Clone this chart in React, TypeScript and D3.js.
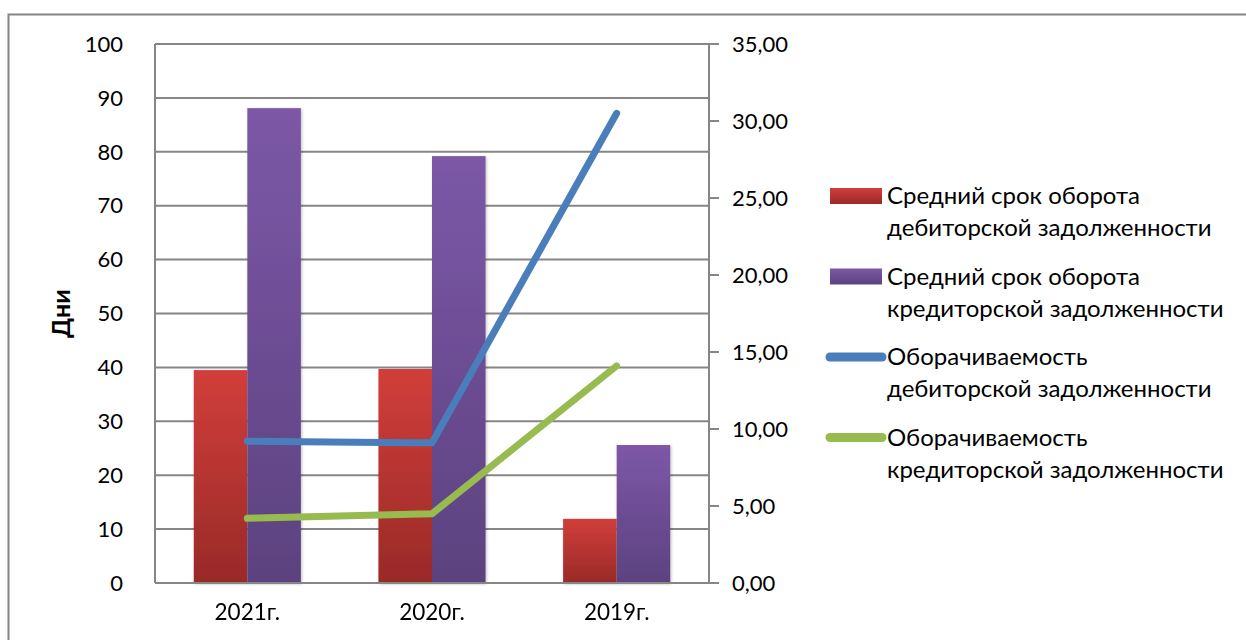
import * as d3 from "d3";
import React from "react";

const categories = ["2021г.", "2020г.", "2019г."];
const receivableDays = [39.5, 39.7, 11.9];
const payableDays = [88.1, 79.2, 25.6];
const receivableTurnover = [9.2, 9.1, 30.5];
const payableTurnover = [4.2, 4.5, 14.1];
const leftTicks = [0, 10, 20, 30, 40, 50, 60, 70, 80, 90, 100];
const rightTicks = [0, 5, 10, 15, 20, 25, 30, 35];

const legendItems = [
  { kind: "bar", fill: "url(#gRed)", lines: ["Средний срок оборота", "дебиторской задолженности"] },
  { kind: "bar", fill: "url(#gPurple)", lines: ["Средний срок оборота", "кредиторской задолженности"] },
  { kind: "line", fill: "#4a7ebb", lines: ["Оборачиваемость", "дебиторской задолженности"] },
  { kind: "line", fill: "#98bb50", lines: ["Оборачиваемость", "кредиторской задолженности"] },
];

export default function App() {
  const width = 1246;
  const height = 640;
  const left = 155;
  const right = 709;
  const top = 44;
  const bottom = 583;
  const font = "Lato, 'Open Sans', sans-serif";

  const x = d3.scaleBand().domain(categories).range([left, right]).paddingInner(0.42).paddingOuter(0.21);
  const xSub = d3.scaleBand().domain(["r", "p"]).range([0, x.bandwidth()]);
  const y = d3.scaleLinear().domain([0, 100]).range([bottom, top]);
  const y2 = d3.scaleLinear().domain([0, 35]).range([bottom, top]);

  const line = d3
    .line<number>()
    .x((_, i) => (x(categories[i]) || 0) + x.bandwidth() / 2)
    .y((d) => y2(d));

  const fmt = (v: number) => v.toFixed(2).replace(".", ",");

  return (
    <svg width={width} height={height} style={{ position: "absolute", left: 0, top: 0, background: "#fff" }}>
      <defs>
        <linearGradient id="gRed" x1="0" x2="0" y1="0" y2="1">
          <stop offset="0%" stopColor="#d13e3a" />
          <stop offset="100%" stopColor="#992a28" />
        </linearGradient>
        <linearGradient id="gPurple" x1="0" x2="0" y1="0" y2="1">
          <stop offset="0%" stopColor="#7c58a7" />
          <stop offset="100%" stopColor="#5c427f" />
        </linearGradient>
        <filter id="shadow" x="-20%" y="-5%" width="140%" height="110%">
          <feDropShadow dx="1" dy="1" stdDeviation="1.5" floodColor="#000" floodOpacity="0.25" />
        </filter>
      </defs>
      <rect x={8.5} y={14.5} width={1260} height={660} fill="none" stroke="#868686" strokeWidth={2} />

      {leftTicks.map((t) => (
        <g key={t}>
          <line x1={left} x2={right} y1={y(t)} y2={y(t)} stroke="#868686" strokeWidth={2} />
          <text x={123} y={y(t)} dy="0.35em" textAnchor="end" fontFamily={font} fontSize={22}>
            {t}
          </text>
        </g>
      ))}
      <line x1={left} x2={left} y1={top} y2={bottom} stroke="#868686" strokeWidth={2} />
      <line x1={right} x2={right} y1={top} y2={bottom} stroke="#868686" strokeWidth={2} />
      {rightTicks.map((t) => (
        <g key={t}>
          <line x1={right} x2={right + 10} y1={y2(t)} y2={y2(t)} stroke="#868686" strokeWidth={2} />
          <text x={732} y={y2(t)} dy="0.35em" fontFamily={font} fontSize={22}>
            {fmt(t)}
          </text>
        </g>
      ))}

      <g filter="url(#shadow)">
        {categories.map((c, i) => (
          <g key={c} transform={`translate(${x(c)},0)`}>
            <rect x={xSub("r")} width={xSub.bandwidth()} y={y(receivableDays[i])} height={bottom - y(receivableDays[i])} fill="url(#gRed)" />
            <rect x={xSub("p")} width={xSub.bandwidth()} y={y(payableDays[i])} height={bottom - y(payableDays[i])} fill="url(#gPurple)" />
          </g>
        ))}
      </g>

      <line x1={left} x2={right} y1={bottom} y2={bottom} stroke="#868686" strokeWidth={2} />

      {categories.map((c) => (
        <text key={c} x={(x(c) || 0) + x.bandwidth() / 2} y={612} dy="0.35em" textAnchor="middle" fontFamily={font} fontSize={22.5}>
          {c}
        </text>
      ))}

      <path d={line(receivableTurnover) || ""} fill="none" stroke="#4a7ebb" strokeWidth={7} strokeLinecap="round" strokeLinejoin="round" />
      <path d={line(payableTurnover) || ""} fill="none" stroke="#98bb50" strokeWidth={7} strokeLinecap="round" strokeLinejoin="round" />

      <text transform={`translate(61,${(top + bottom) / 2}) rotate(-90)`} textAnchor="middle" dy="0.35em" fontFamily={font} fontSize={25} fontWeight="bold">
        Дни
      </text>

      {legendItems.map((item, i) => {
        const ly = 196 + i * 80.5;
        return (
          <g key={i}>
            {item.kind === "bar" ? (
              <rect x={830} y={ly - 8} width={52} height={16} fill={item.fill} />
            ) : (
              <line x1={830} x2={882} y1={ly} y2={ly} stroke={item.fill} strokeWidth={9} strokeLinecap="round" />
            )}
            {item.lines.map((t, j) => (
              <text key={j} x={887} y={ly + j * 32} dy="0.35em" fontFamily={font} fontSize={24}>
                {t}
              </text>
            ))}
          </g>
        );
      })}
    </svg>
  );
}
